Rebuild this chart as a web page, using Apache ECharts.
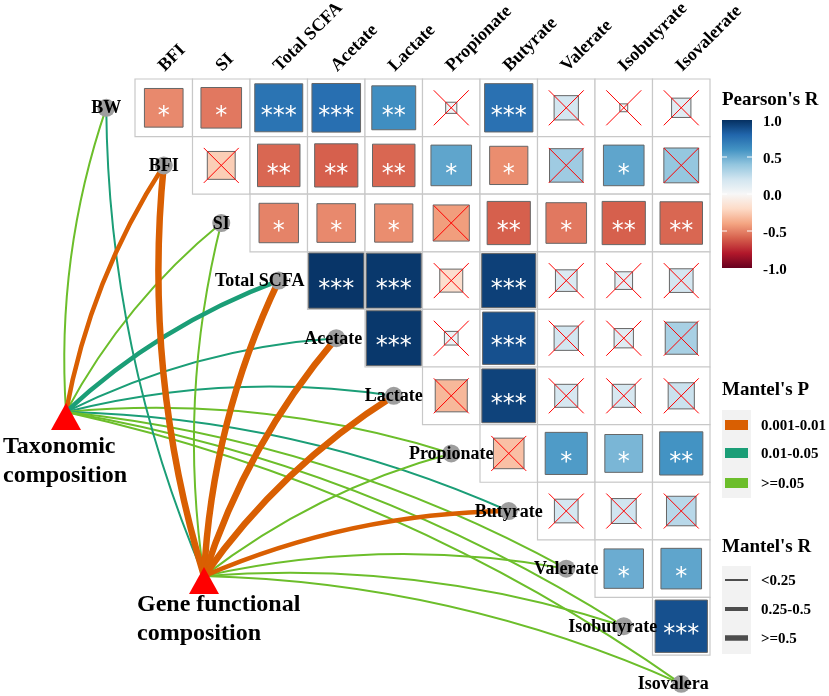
<!DOCTYPE html>
<html><head><meta charset="utf-8">
<script src="https://cdn.jsdelivr.net/npm/echarts@6/dist/echarts.min.js"></script>
<style>html,body{margin:0;padding:0;background:#fff}#c{width:829px;height:696px}</style>
</head><body><div id="c"></div>
<script>
// ---------------- data ----------------
const corrRows = ['BW','BFI','SI','Total SCFA','Acetate','Lactate','Propionate','Butyrate','Valerate','Isobutyrate'];
const corrCols = ['BFI','SI','Total SCFA','Acetate','Lactate','Propionate','Butyrate','Valerate','Isobutyrate','Isovalerate'];
// Pearson's r, row i starts at column i
const rBW         = [-0.48,-0.53, 0.74, 0.76, 0.62, 0.04, 0.75, 0.19, 0.02, 0.12];
const rBFI        = [-0.25,-0.58,-0.60,-0.58, 0.53,-0.47, 0.36, 0.53, 0.39];
const rSI         = [-0.50,-0.48,-0.47,-0.42,-0.60,-0.53,-0.60,-0.58];
const rTotalSCFA  = [ 0.98, 0.97,-0.17, 0.94, 0.15, 0.10, 0.18];
const rAcetate    = [ 0.97, 0.06, 0.88, 0.19, 0.12, 0.33];
const rLactate    = [-0.33, 0.93, 0.17, 0.17, 0.22];
const rPropionate = [-0.30, 0.57, 0.46, 0.60];
const rButyrate   = [ 0.18, 0.20, 0.28];
const rValerate   = [ 0.50, 0.53];
const rIsobutyrate= [ 0.88];
// significance stars
const sBW         = ['*','*','***','***','**','','***','','',''];
const sBFI        = ['','**','**','**','*','*','','*',''];
const sSI         = ['*','*','*','','**','*','**','**'];
const sTotalSCFA  = ['***','***','','***','','',''];
const sAcetate    = ['***','','***','','',''];
const sLactate    = ['','***','','',''];
const sPropionate = ['','*','*','**'];
const sButyrate   = ['','',''];
const sValerate   = ['*','*'];
const sIsobutyrate= ['***'];
// Mantel test links
const mantelNodes = ['BW','BFI','SI','Total SCFA','Acetate','Lactate','Propionate','Butyrate','Valerate','Isobutyrate','Isovalera'];
const envNames = ['Taxonomic\ncomposition','Gene functional\ncomposition'];
const taxP  = ['>=0.05','0.001-0.01','>=0.05','0.01-0.05','0.01-0.05','0.01-0.05','>=0.05','0.01-0.05','>=0.05','>=0.05','>=0.05'];
const taxR  = ['<0.25','0.25-0.5','<0.25','0.25-0.5','<0.25','<0.25','<0.25','<0.25','<0.25','<0.25','<0.25'];
const geneP = ['0.01-0.05','0.001-0.01','>=0.05','0.001-0.01','0.001-0.01','0.001-0.01','>=0.05','0.001-0.01','>=0.05','>=0.05','>=0.05'];
const geneR = ['<0.25','>=0.5','<0.25','>=0.5','>=0.5','>=0.5','<0.25','0.25-0.5','<0.25','<0.25','<0.25'];
const pLevels = ['0.001-0.01','0.01-0.05','>=0.05'];
const rLevels = ['<0.25','0.25-0.5','>=0.5'];
const colorTicks = [1.0, 0.5, 0.0, -0.5, -1.0];

// ---------------- layout / style ----------------
const envPos = [[-1.2, 5.78],[1.2, 8.63]];        // anchor of the two triangles (data units)
const envLabelOff = [[-63, 20],[-67, 14]];
const nodeLabelDx = [0,0,0,-19,-3,0,0,0,0,-11,-8];
const FONT = '"Liberation Serif", "Times New Roman", serif';
const pColor = {'0.001-0.01':'#D95F02','0.01-0.05':'#1B9E77','>=0.05':'#6CBE2B'};
const rWidth = {'<0.25':2,'0.25-0.5':4.5,'>=0.5':6.5};
const RdBu = ['#67001f','#b2182b','#d6604d','#f4a582','#fddbc7','#f7f7f7','#d1e5f0','#92c5de','#4393c3','#2166ac','#053061'];

const rAll = [rBW,rBFI,rSI,rTotalSCFA,rAcetate,rLactate,rPropionate,rButyrate,rValerate,rIsobutyrate];
const sAll = [sBW,sBFI,sSI,sTotalSCFA,sAcetate,sLactate,sPropionate,sButyrate,sValerate,sIsobutyrate];
const cellData = [];
rAll.forEach((arr,i)=>arr.forEach((v,j)=>cellData.push([i+j, i, v, sAll[i][j]])));

const nodeData = mantelNodes.map((n,k)=>[k-0.5, k+0.5, n, k]);
const edges = [];
[[taxP,taxR,0],[geneP,geneR,1]].forEach(([P,R,e])=>{
  P.forEach((p,k)=>edges.push({
    coords:[envPos[e], [k-0.5, k+0.5]],
    lineStyle:{color:pColor[p], width:rWidth[R[k]]}
  }));
});
edges.sort((a,b)=>a.lineStyle.width-b.lineStyle.width);

const chart = echarts.init(document.getElementById('c'));

function cellRender(params, api){
  const c = api.value(0), r = api.value(1), v = api.value(2);
  const star = cellData[params.dataIndex][3];
  const p0 = api.coord([c, r]), p1 = api.coord([c+1, r+1]);
  const w = p1[0]-p0[0], h = p1[1]-p0[1];
  const cx = p0[0]+w/2, cy = p0[1]+h/2;
  const s = Math.sqrt(Math.abs(v))*Math.min(w,h)*0.97;
  const ch = [
    {type:'rect', shape:{x:p0[0],y:p0[1],width:w,height:h}, style:{fill:'#fff',stroke:'#c8c8c8',lineWidth:1.2}},
    {type:'rect', shape:{x:cx-s/2,y:cy-s/2,width:s,height:s}, style:{fill:api.visual('color'),stroke:'#666',lineWidth:1}}
  ];
  if(!star){
    const d = 17.5;
    ch.push({type:'line', shape:{x1:cx-d,y1:cy-d,x2:cx+d,y2:cy+d}, style:{stroke:'#ff0000',lineWidth:1}});
    ch.push({type:'line', shape:{x1:cx-d,y1:cy+d,x2:cx+d,y2:cy-d}, style:{stroke:'#ff0000',lineWidth:1}});
  } else {
    ch.push({type:'text', x:cx, y:cy+9, style:{text:star, fill:'#fff', font:'24px "DejaVu Sans"', align:'center', verticalAlign:'middle'}});
  }
  return {type:'group', children:ch};
}

function colLabelRender(params, api){
  const p = api.coord([api.value(0), 0]);
  return {type:'text', x:p[0]+4, y:p[1]-4, rotation:Math.PI/4,
    style:{text:corrCols[params.dataIndex], fill:'#000', font:'bold 18px '+FONT, align:'left', verticalAlign:'bottom'}};
}

function nodeLabelRender(params, api){
  const p = api.coord([api.value(0), api.value(1)]);
  const k = params.dataIndex;
  return {type:'text', x:p[0]+nodeLabelDx[k], y:p[1]+1,
    style:{text:mantelNodes[k], fill:'#000', font:'bold 18px '+FONT, align:'center', verticalAlign:'middle'}};
}

function envRender(params, api){
  const e = params.dataIndex;
  const p = api.coord([api.value(0), api.value(1)]);
  return {type:'group', children:[
    {type:'polygon', shape:{points:[[p[0],p[1]-9],[p[0]+15,p[1]+18],[p[0]-15,p[1]+18]]}, style:{fill:'#ff0000'}},
    {type:'text', x:p[0]+envLabelOff[e][0], y:p[1]+envLabelOff[e][1],
      style:{text:envNames[e], fill:'#000', font:'bold 24px '+FONT, align:'left', verticalAlign:'top', lineHeight:29}}
  ]};
}

// legends (graphic)
const G = [];
G.push({type:'text', left:722, top:91, style:{text:"Pearson's R", font:'bold 19px '+FONT, fill:'#000'}});
G.push({type:'rect', shape:{x:722,y:120,width:30,height:148}, style:{fill:new echarts.graphic.LinearGradient(0,0,0,1,
  RdBu.slice().reverse().map((c,i)=>({offset:i/(RdBu.length-1), color:c})))}});
colorTicks.forEach(v=>{
  const y = 120 + (1-v)/2*148;
  G.push({type:'text', x:763, y:y+2, style:{text:v.toFixed(1), font:'bold 15px '+FONT, fill:'#000', verticalAlign:'middle'}});
  if(Math.abs(v)<1){
    G.push({type:'line', shape:{x1:722,y1:y,x2:727,y2:y}, style:{stroke:'#fff',lineWidth:1}});
    G.push({type:'line', shape:{x1:747,y1:y,x2:752,y2:y}, style:{stroke:'#fff',lineWidth:1}});
  }
});
G.push({type:'text', x:722, y:390, style:{text:"Mantel's P", font:'bold 19px '+FONT, fill:'#000', verticalAlign:'middle'}});
G.push({type:'rect', shape:{x:722,y:410,width:29,height:88}, style:{fill:'#f2f2f2'}});
pLevels.forEach((p,i)=>{
  const y = [425,453,483][i];
  G.push({type:'rect', shape:{x:725,y:y-5,width:23,height:10}, style:{fill:pColor[p]}});
  G.push({type:'text', x:761, y:y+1, style:{text:p, font:'bold 15px '+FONT, fill:'#000', verticalAlign:'middle'}});
});
G.push({type:'text', x:722, y:547, style:{text:"Mantel's R", font:'bold 19px '+FONT, fill:'#000', verticalAlign:'middle'}});
G.push({type:'rect', shape:{x:722,y:566,width:29,height:88}, style:{fill:'#f2f2f2'}});
rLevels.forEach((r,i)=>{
  const y = [580,609,638][i];
  G.push({type:'line', shape:{x1:725,y1:y,x2:748,y2:y}, style:{stroke:'#4d4d4d',lineWidth:[2,4,5.5][i]}});
  G.push({type:'text', x:761, y:y+1, style:{text:r, font:'bold 15px '+FONT, fill:'#000', verticalAlign:'middle'}});
});

chart.setOption({
  animation:false,
  backgroundColor:'#fff',
  grid:{left:20, right:61.5, top:21.4, bottom:6.4},
  xAxis:{type:'value', min:-2, max:11, show:false},
  yAxis:{type:'value', min:-1, max:10.6, inverse:true, show:false},
  visualMap:{type:'continuous', show:false, min:-1, max:1, dimension:2, seriesIndex:0, inRange:{color:RdBu}},
  graphic:G,
  series:[
    {type:'custom', name:'cells', data:cellData.map(d=>[d[0],d[1],d[2]]), renderItem:cellRender, clip:false, silent:true, z:1},
    {type:'custom', name:'colLabels', data:corrCols.map((c,j)=>[j+0.5,0]), renderItem:colLabelRender, clip:false, silent:true, z:1},
    {type:'lines', coordinateSystem:'cartesian2d', data:edges, lineStyle:{curveness:0.1, opacity:1}, silent:true, z:2},
    {type:'custom', name:'env', data:envPos, renderItem:envRender, clip:false, silent:true, z:3},
    {type:'scatter', name:'nodes', data:nodeData, symbolSize:18, itemStyle:{color:'#9e9e9e', opacity:1}, clip:false, silent:true, z:3},
    {type:'custom', name:'nodeLabels', data:nodeData.map(d=>[d[0],d[1]]), renderItem:nodeLabelRender, clip:false, silent:true, z:4}
  ]
});
</script></body></html>
